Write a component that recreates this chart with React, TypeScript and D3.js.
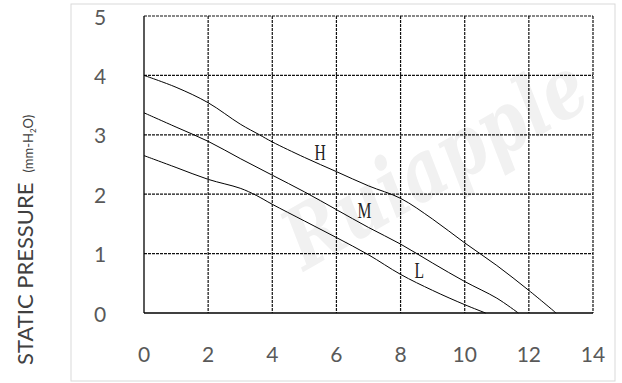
import * as d3 from 'd3'

// flow (x) against static pressure (y)
const X_TICKS = [0, 2, 4, 6, 8, 10, 12, 14]
const Y_TICKS = [0, 1, 2, 3, 4, 5]

const H_FLOW = [0, 1, 2, 3, 3.6, 4, 5, 6, 7, 8, 9, 10, 11, 12, 12.85]
const H_PRES = [4.0, 3.8, 3.54, 3.18, 3.0, 2.88, 2.62, 2.38, 2.14, 1.93, 1.58, 1.18, 0.8, 0.38, 0]

const M_FLOW = [0, 1, 2, 3, 4, 5, 6, 7, 8, 9, 10, 11, 11.67]
const M_PRES = [3.37, 3.13, 2.89, 2.6, 2.32, 2.04, 1.74, 1.44, 1.16, 0.84, 0.53, 0.25, 0]

const L_FLOW = [0, 1, 2, 3, 3.5, 4, 5, 6, 7, 8, 9, 10, 10.65]
const L_PRES = [2.65, 2.45, 2.25, 2.1, 1.98, 1.83, 1.55, 1.27, 0.98, 0.65, 0.38, 0.14, 0]

const CURVE_NAMES = ['H', 'M', 'L']
const LABEL_X = [5.49, 6.87, 8.58]
const LABEL_Y = [2.72, 1.73, 0.73]

const W = 622
const H = 383
const margin = { top: 16, right: 29, bottom: 70, left: 144 }

export default function App() {
  const w = W - margin.left - margin.right
  const h = H - margin.top - margin.bottom

  const x = d3.scaleLinear().domain([0, 14]).range([0, w])
  const y = d3.scaleLinear().domain([0, 5]).range([h, 0])

  const line = d3.line<[number, number]>()
    .x(d => x(d[0]))
    .y(d => y(d[1]))
    .curve(d3.curveCatmullRom.alpha(0.5))

  const series = [
    d3.zip(H_FLOW, H_PRES) as [number, number][],
    d3.zip(M_FLOW, M_PRES) as [number, number][],
    d3.zip(L_FLOW, L_PRES) as [number, number][],
  ]

  const labelFont = 'Lato, "Open Sans", sans-serif'

  return (
    <svg width={W} height={H} style={{ position: 'absolute', left: 0, top: 0, background: '#fff' }}>
      {/* outer frame */}
      <rect x={71} y={4} width={544} height={377} fill="#fff" stroke="#d9d9d9" strokeWidth={1} />

      {/* axis title */}
      <g transform="translate(33,365) rotate(-90)">
        <text fill="#404040" fontFamily={labelFont} fontSize={22}>
          STATIC PRESSURE
          <tspan dx={10} fontSize={13}>(mm-H</tspan>
          <tspan fontSize={8} dy={3}>2</tspan>
          <tspan fontSize={13} dy={-3}>O)</tspan>
        </text>
      </g>

      <g transform={`translate(${margin.left},${margin.top})`}>
        {/* watermark */}
        <text
          transform={`translate(${x(5.0)},${y(0.7)}) rotate(-30)`}
          fontFamily='"DejaVu Serif", serif'
          fontStyle="italic"
          fontWeight="bold"
          fontSize={84}
          fill="#f1f1f1"
          textLength={335}
          lengthAdjust="spacingAndGlyphs"
        >
          Ruiapple
        </text>

        {/* grid */}
        {Y_TICKS.filter(t => t > 0).map(t => (
          <line key={'gy' + t} x1={0} x2={w} y1={y(t)} y2={y(t)}
            stroke="#111" strokeWidth={1.2} strokeDasharray="3,1" />
        ))}
        {X_TICKS.filter(t => t > 0).map(t => (
          <line key={'gx' + t} x1={x(t)} x2={x(t)} y1={0} y2={h}
            stroke="#111" strokeWidth={1.2} strokeDasharray="3,1" />
        ))}
        <line x1={0} x2={0} y1={0} y2={h} stroke="#000" strokeWidth={1.3} />
        <line x1={0} x2={w} y1={h} y2={h} stroke="#000" strokeWidth={1.3} />

        {/* curves */}
        {series.map((s, i) => (
          <path key={CURVE_NAMES[i]} d={line(s) ?? ''} fill="none" stroke="#000" strokeWidth={1} />
        ))}
        {CURVE_NAMES.map((n, i) => (
          <text key={'lab' + n}
            transform={`translate(${x(LABEL_X[i])},${y(LABEL_Y[i])}) scale(0.68,1)`}
            textAnchor="middle" dominantBaseline="central"
            fontFamily='"Liberation Serif", "DejaVu Serif", serif'
            fontSize={23} fill="#222">
            {n}
          </text>
        ))}

        {/* tick labels */}
        {Y_TICKS.map(t => (
          <text key={'ty' + t} x={-44} y={y(t)} textAnchor="middle" dominantBaseline="central"
            fontFamily={labelFont} fontSize={21} fill="#595959">
            {t}
          </text>
        ))}
        {X_TICKS.map(t => (
          <text key={'tx' + t} x={x(t)} y={h + 40} textAnchor="middle" dominantBaseline="central"
            fontFamily={labelFont} fontSize={21} fill="#595959">
            {t}
          </text>
        ))}
      </g>
    </svg>
  )
}
